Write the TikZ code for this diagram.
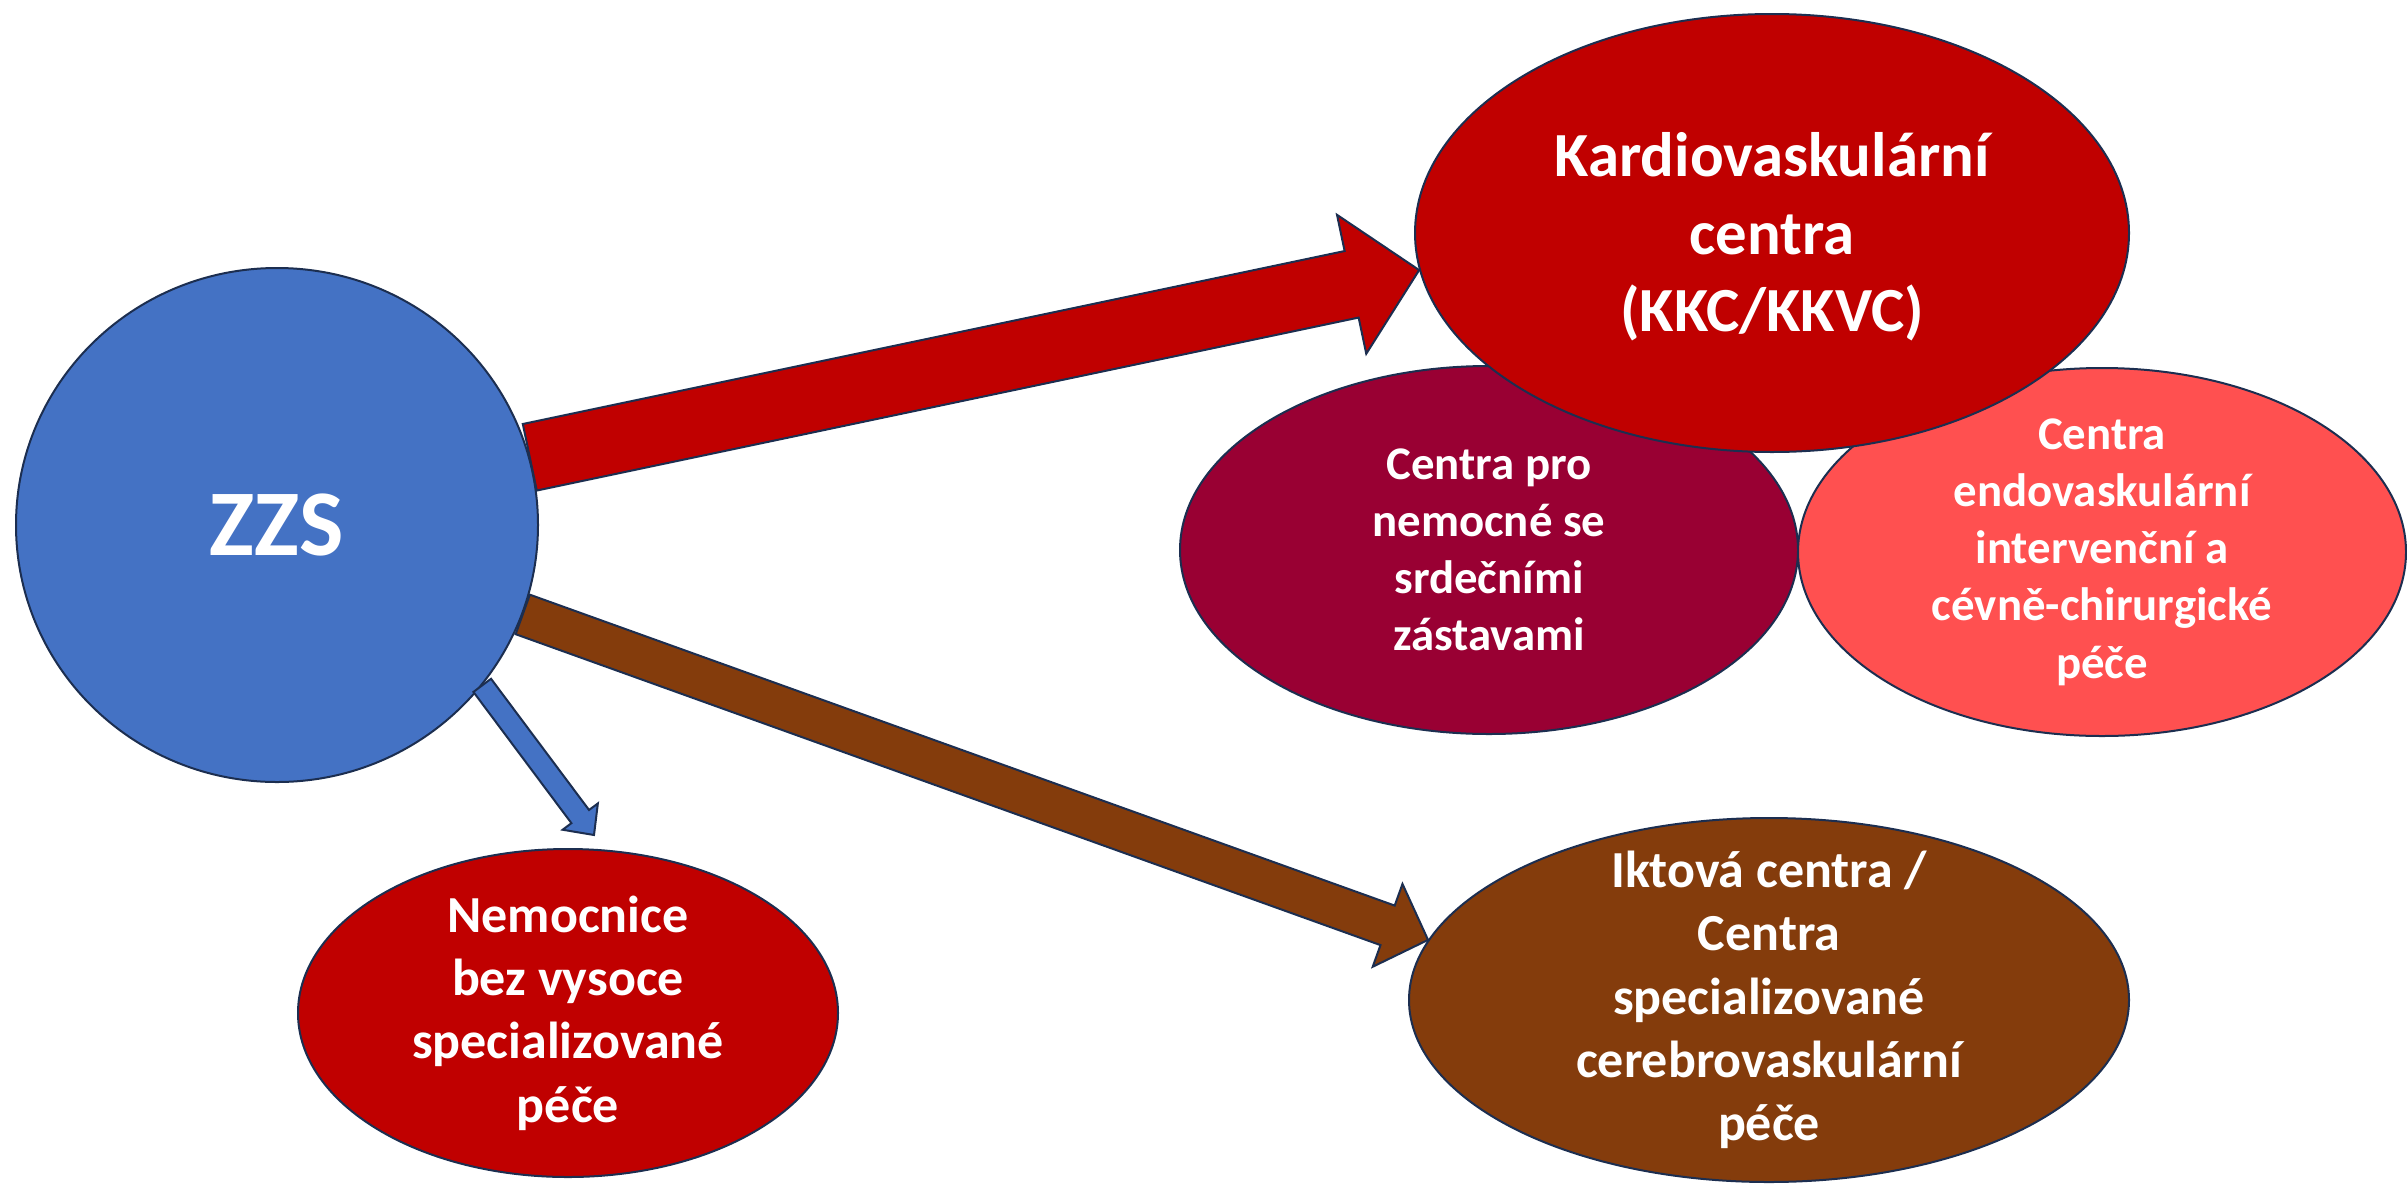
\documentclass[tikz,border=0pt]{standalone}
\usepackage{fontspec}
\setmainfont{Carlito}
\usetikzlibrary{shapes.geometric,calc}
\definecolor{modra}{HTML}{4472C4}
\definecolor{cervena}{HTML}{C00000}
\definecolor{vinova}{HTML}{990033}
\definecolor{losos}{HTML}{FF5050}
\definecolor{hneda}{HTML}{843C0C}
\definecolor{obrys}{HTML}{1C2E50}
\tikzset{
  bub/.style = {ellipse, draw=obrys, line width=1pt, inner sep=0pt},% bublina bez textu
  bub_zzs/.style = {bub, fill=modra, minimum width=261pt, minimum height=257pt},
  bub_kkc/.style = {bub, fill=cervena, minimum width=357pt, minimum height=219pt},
  bub_srd/.style = {bub, fill=vinova, minimum width=309pt, minimum height=184pt},
  bub_endo/.style = {bub, fill=losos, minimum width=304pt, minimum height=184pt},
  bub_nem/.style = {bub, fill=cervena, minimum width=270pt, minimum height=164pt},
  bub_ikt/.style = {bub, fill=hneda, minimum width=360pt, minimum height=182pt},
  txt/.style = {align=center, inner sep=0pt, text=white},% bily tucny text
  txt_zzs/.style = {txt, font=\fontsize{47}{56}\selectfont\bfseries},
  txt_l/.style = {txt, font=\fontsize{31.4}{38.8}\selectfont\bfseries},
  txt_m/.style = {txt, font=\fontsize{26}{31.7}\selectfont\bfseries},
  txt_s/.style = {txt, font=\fontsize{23.4}{28.6}\selectfont\bfseries},
  sip/.style = {draw=obrys, line width=1pt, line join=miter}% blokova sipka
}
% #1 odkud, #2 kam, #3 pul driku, #4 pul hrotu, #5 delka hrotu, #6 barva
\newcommand{\sipka}[6]{%
  \coordinate (#1h) at ($(#2)!#5!(#1)$);
  \draw[sip, fill=#6] ($(#1)!#3!90:(#2)$) -- ($(#1h)!#3!90:(#2)$)
    -- ($(#1h)!#4!90:(#2)$) -- (#2) -- ($(#1h)!#4!-90:(#2)$)
    -- ($(#1h)!#3!-90:(#2)$) -- ($(#1)!#3!-90:(#2)$) -- cycle;
}

\begin{document}
\begin{tikzpicture}[x=0.5pt,y=-0.5pt]
  \useasboundingbox (0,0) rectangle (2407,1194);

  \node [bub_zzs] (zzs) at (277,525) {};
  \node [bub_srd] (srdce) at (1489,550) {};
  \node [bub_endo] (endo) at (2102,552) {};
  \node [bub_kkc] (kkc) at (1772,233) {};
  \node [bub_nem] (nemoc) at (568,1013) {};
  \node [bub_ikt] (iktova) at (1769,1000) {};

  \node [txt_zzs] (zzs_t) at (zzs) {ZZS};
  \node [txt_l] (kkc_t) at ([yshift=-2pt]kkc) {Kardiovaskulární\\centra\\(KKC/KKVC)};
  \node [txt_s] (srdce_t) at (srdce) {Centra pro\\nemocné se\\srdečními\\zástavami};
  \node [txt_s] (endo_t) at (endo) {Centra\\endovaskulární\\intervenční a\\cévně-chirurgické\\péče};
  \node [txt_m] (nemoc_t) at (nemoc) {Nemocnice\\bez vysoce\\specializované\\péče};
  \node [txt_m] (iktova_t) at (iktova) {Iktová centra /\\Centra\\specializované\\cerebrovaskulární\\péče};

  \coordinate (c0) at (zzs.15);
  \coordinate (c1) at (kkc.186);
  \coordinate (h0) at (zzs.-20);
  \coordinate (h1) at (iktova.170);
  \coordinate (m0) at (zzs.-38.5);
  \coordinate (m1) at ($(nemoc.north)+(26,-13)$);

  \sipka{c0}{c1}{17pt}{35.5pt}{34.5pt}{cervena}
  \sipka{h0}{h1}{10.5pt}{22pt}{21.5pt}{hneda}
  \sipka{m0}{m1}{5.5pt}{11pt}{11.5pt}{modra}

\end{tikzpicture}
\end{document}
